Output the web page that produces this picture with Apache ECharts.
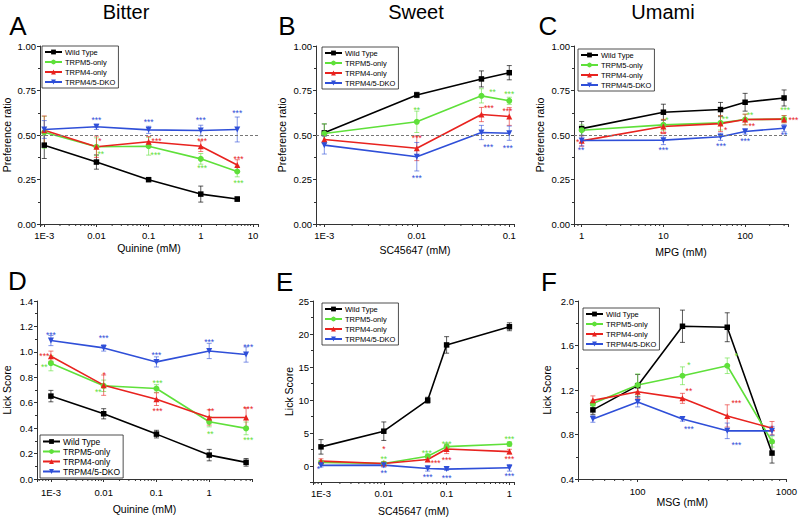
<!DOCTYPE html>
<html><head><meta charset="utf-8">
<script src="https://cdn.jsdelivr.net/npm/echarts@6/dist/echarts.min.js"></script>
<style>html,body{margin:0;padding:0;background:#fff}#c{width:800px;height:517px}</style>
</head><body><div id="c"></div>
<script>
const SERIES_NAMES = ['Wild Type','TRPM5-only','TRPM4-only','TRPM4/5-DKO'];
const COLORS = ['#000000','#5fe03a','#e8231f','#2f4fd8'];
const SYMBOLS = ['rect','circle','triangle','triangle'];
const SYMBOL_ROT = [0,0,0,180];
const FONT = 'Liberation Sans, Arial, sans-serif';

// ---- Panel A: Bitter, preference ratio vs quinine
const A_CONC = [0.001, 0.01, 0.1, 1, 5];
const A_WT = [0.443, 0.348, 0.249, 0.168, 0.140];
const A_WT_ERR = [0.075, 0.04, 0.01, 0.045, 0.012];
const A_M5 = [0.515, 0.434, 0.437, 0.366, 0.295];
const A_M5_ERR = [0.09, 0.05, 0.05, 0.03, 0.03];
const A_M4 = [0.527, 0.434, 0.462, 0.437, 0.331];
const A_M4_ERR = [0.08, 0.06, 0.03, 0.03, 0.03];
const A_DKO = [0.531, 0.546, 0.529, 0.525, 0.531];
const A_DKO_ERR = [0.05, 0.015, 0.02, 0.03, 0.07];
const A_X_TICKS = [[0.001,'1E-3'],[0.01,'0.01'],[0.1,'0.1'],[1,'1'],[10,'10']];
const A_STARS = [
  [0.01,0.593,'***',3],[0.1,0.583,'***',3],[1,0.593,'***',3],[5,0.636,'***',3],
  [0.0116,0.477,'*',2],[0.142,0.477,'***',2],[1.06,0.477,'***',2],[5.3,0.376,'***',2],
  [0.0121,0.404,'**',1],[0.136,0.40,'***',1],[1.06,0.325,'***',1],[5.3,0.243,'***',1]
];

// ---- Panel B: Sweet, preference ratio vs SC45647
const B_CONC = [0.001, 0.01, 0.05, 0.1];
const B_WT = [0.512, 0.725, 0.815, 0.850];
const B_WT_ERR = [0.05, 0.015, 0.045, 0.04];
const B_M5 = [0.508, 0.574, 0.720, 0.692];
const B_M5_ERR = [0.055, 0.06, 0.04, 0.02];
const B_M4 = [0.475, 0.426, 0.615, 0.604];
const B_M4_ERR = [0.02, 0.07, 0.04, 0.05];
const B_DKO = [0.443, 0.378, 0.514, 0.510];
const B_DKO_ERR = [0.05, 0.08, 0.04, 0.04];
const B_X_TICKS = [[0.001,'1E-3'],[0.01,'0.01'],[0.1,'0.1']];
const B_STARS = [
  [0.01,0.652,'**',1],[0.066,0.751,'**',1],[0.1,0.740,'***',1],
  [0.01,0.493,'***',2],[0.0603,0.662,'***',2],[0.0955,0.647,'***',2],
  [0.01,0.269,'***',3],[0.0593,0.443,'***',3],[0.0965,0.437,'***',3]
];

// ---- Panel C: Umami, preference ratio vs MPG
const C_CONC = [1, 10, 50, 100, 300];
const C_WT = [0.536, 0.628, 0.643, 0.684, 0.708];
const C_WT_ERR = [0.04, 0.045, 0.04, 0.05, 0.045];
const C_M5 = [0.527, 0.557, 0.568, 0.587, 0.589];
const C_M5_ERR = [0.03, 0.03, 0.04, 0.03, 0.02];
const C_M4 = [0.467, 0.548, 0.564, 0.587, 0.589];
const C_M4_ERR = [0.03, 0.04, 0.045, 0.03, 0.02];
const C_DKO = [0.469, 0.471, 0.490, 0.520, 0.538];
const C_DKO_ERR = [0.03, 0.025, 0.02, 0.015, 0.02];
const C_X_TICKS = [[1,'1'],[10,'10'],[100,'100']];
const C_STARS = [
  [11,0.593,'*',1],[57,0.602,'**',1],[115,0.621,'**',1],[309,0.649,'***',1],
  [0.893,0.473,'*',2],[10,0.518,'**',2],[58,0.542,'*',2],[121,0.564,'**',2],[390,0.593,'***',2],
  [0.98,0.426,'**',3],[10,0.426,'***',3],[50.8,0.450,'***',3],[100,0.477,'***',3],[300,0.510,'**',3]
];

// ---- Panel D: Bitter, lick score vs quinine
const D_CONC = [0.001, 0.01, 0.1, 1, 5];
const D_WT = [0.652, 0.513, 0.353, 0.188, 0.131];
const D_WT_ERR = [0.045, 0.04, 0.03, 0.045, 0.03];
const D_M5 = [0.911, 0.733, 0.712, 0.450, 0.398];
const D_M5_ERR = [0.06, 0.045, 0.03, 0.04, 0.05];
const D_M4 = [0.966, 0.738, 0.628, 0.484, 0.484];
const D_M4_ERR = [0.04, 0.08, 0.05, 0.06, 0.075];
const D_DKO = [1.089, 1.031, 0.921, 1.007, 0.979];
const D_DKO_ERR = [0.04, 0.025, 0.04, 0.06, 0.06];
const D_X_TICKS = [[0.001,'1E-3'],[0.01,'0.01'],[0.1,'0.1'],[1,'1']];
const D_STARS = [
  [0.001,1.151,'***',3],[0.01,1.123,'***',3],[0.1,0.994,'***',3],[1,1.096,'***',3],[5.5,1.057,'***',3],
  [0.00075,0.985,'***',2],[0.0102,0.830,'*',2],[0.105,0.550,'***',2],[1.08,0.550,'**',2],[5.5,0.568,'***',2],
  [0.00075,0.897,'**',1],[0.0079,0.699,'**',1],[0.105,0.769,'***',1],[1.05,0.372,'**',1],[5.5,0.325,'***',1]
];

// ---- Panel E: Sweet, lick score vs SC45647
const E_CONC = [0.001, 0.01, 0.05, 0.1, 1];
const E_WT = [2.92, 5.29, 9.98, 18.35, 21.1];
const E_WT_ERR = [1.1, 1.4, 0.45, 1.25, 0.6];
const E_M5 = [0.55, 0.4, 1.5, 2.95, 3.35];
const E_M5_ERR = [0.3, 0.25, 0.35, 0.45, 0.35];
const E_M4 = [0.76, 0.4, 1.0, 2.6, 2.2];
const E_M4_ERR = [0.35, 0.3, 0.3, 0.7, 0.35];
const E_DKO = [0.12, 0.15, -0.35, -0.45, -0.25];
const E_DKO_ERR = [0.25, 0.3, 0.4, 0.2, 0.5];
const E_X_TICKS = [[0.001,'1E-3'],[0.01,'0.01'],[0.1,'0.1'],[1,'1']];
const E_STARS = [
  [0.00091,-0.1,'*',3],
  [0.01,2.85,'*',2],[0.01,1.45,'**',1],[0.01,-0.76,'**',3],
  [0.0483,2.32,'***',1],[0.0671,0.76,'***',2],[0.05,-1.36,'***',3],
  [0.1,3.68,'***',1],[0.1,1.26,'***',2],[0.1,-1.46,'***',3],
  [1,4.44,'***',1],[1,1.41,'***',2],[1,-1.26,'***',3]
];

// ---- Panel F: Umami, lick score vs MSG
const F_CONC = [50, 100, 200, 400, 800];
const F_WT = [1.021, 1.239, 1.773, 1.764, 0.633];
const F_WT_ERR = [0.04, 0.1, 0.145, 0.13, 0.09];
const F_M5 = [1.078, 1.245, 1.328, 1.418, 0.737];
const F_M5_ERR = [0.03, 0.1, 0.08, 0.07, 0.05];
const F_M4 = [1.107, 1.185, 1.125, 0.967, 0.857];
const F_M4_ERR = [0.04, 0.06, 0.045, 0.1, 0.06];
const F_DKO = [0.940, 1.093, 0.940, 0.833, 0.833];
const F_DKO_ERR = [0.03, 0.045, 0.02, 0.07, 0.04];
const F_X_TICKS = [[100,'100'],[1000,'1000']];
const F_STARS = [
  [221,1.439,'*',1],[461,1.528,'*',1],
  [221,1.209,'**',2],[461,1.101,'***',2],
  [221,0.863,'***',3],[461,0.722,'***',3]
];

const PANELS = [
  {grid:{left:39,top:46,width:219,height:178}, conc:A_CONC, means:[A_WT,A_M5,A_M4,A_DKO], errs:[A_WT_ERR,A_M5_ERR,A_M4_ERR,A_DKO_ERR],
   stars:A_STARS, xMin:0.000828, xMax:12.5, yMin:0, yMax:1, yInt:0.25, yDec:2, xTicks:A_X_TICKS,
   xName:'Quinine (mM)', yName:'Preference ratio', xGap:18, xMargin:6, yGap:28, legend:{left:42,top:46,fs:7.5,gap:2}, dashed:true},
  {grid:{left:316,top:46,width:198,height:178}, conc:B_CONC, means:[B_WT,B_M5,B_M4,B_DKO], errs:[B_WT_ERR,B_M5_ERR,B_M4_ERR,B_DKO_ERR],
   stars:B_STARS, xMin:0.000813, xMax:0.1125, yMin:0, yMax:1, yInt:0.25, yDec:2, xTicks:B_X_TICKS,
   xName:'SC45647 (mM)', yName:'Preference ratio', xGap:20, xMargin:6, yGap:29, legend:{left:322,top:47,fs:7.5,gap:2}, dashed:true},
  {grid:{left:574,top:46,width:214,height:178}, conc:C_CONC, means:[C_WT,C_M5,C_M4,C_DKO], errs:[C_WT_ERR,C_M5_ERR,C_M4_ERR,C_DKO_ERR],
   stars:C_STARS, xMin:0.805, xMax:335, yMin:0, yMax:1, yInt:0.25, yDec:2, xTicks:C_X_TICKS,
   xName:'MPG (mM)', yName:'Preference ratio', xGap:22, xMargin:6, yGap:29, legend:{left:578,top:49,fs:7.5,gap:2}, dashed:true},
  {grid:{left:36,top:301,width:216,height:178}, conc:D_CONC, means:[D_WT,D_M5,D_M4,D_DKO], errs:[D_WT_ERR,D_M5_ERR,D_M4_ERR,D_DKO_ERR],
   stars:D_STARS, xMin:0.000545, xMax:6.47, yMin:0, yMax:1.4, yInt:0.2, yDec:1, xTicks:D_X_TICKS,
   xName:'Quinine (mM)', yName:'Lick Score', xGap:24, xMargin:8, yGap:25, legend:{left:40,top:435,fs:8.5,gap:1}, dashed:false},
  {grid:{left:313,top:301,width:201,height:181}, conc:E_CONC, means:[E_WT,E_M5,E_M4,E_DKO], errs:[E_WT_ERR,E_M5_ERR,E_M4_ERR,E_DKO_ERR],
   stars:E_STARS, xMin:0.000746, xMax:1.183, yMin:-2.4, yMax:25, yInt:null, yDec:0, xTicks:E_X_TICKS,
   xName:'SC45647 (mM)', yName:'Lick Score', xGap:23, xMargin:6, yGap:19, legend:{left:322,top:303,fs:7.5,gap:2}, dashed:false},
  {grid:{left:578,top:301,width:209,height:178}, conc:F_CONC, means:[F_WT,F_M5,F_M4,F_DKO], errs:[F_WT_ERR,F_M5_ERR,F_M4_ERR,F_DKO_ERR],
   stars:F_STARS, xMin:39.7, xMax:1000, yMin:0.4, yMax:2.0, yInt:0.4, yDec:1, xTicks:F_X_TICKS,
   xName:'MSG (mM)', yName:'Lick Score', xGap:17, xMargin:7, yGap:26, legend:{left:583,top:308,fs:7.5,gap:2}, dashed:false}
];

function minorTicks(lo, hi) {
  const out = [];
  for (let d = Math.floor(Math.log10(lo)); d <= Math.ceil(Math.log10(hi)); d++) {
    for (let k = 2; k <= 9; k++) {
      const v = k * Math.pow(10, d);
      if (v > lo && v < hi) out.push(v);
    }
  }
  return out;
}

const grids = [], xAxes = [], yAxes = [], series = [], legends = [];
PANELS.forEach((P, i) => {
  grids.push(Object.assign({containLabel:false}, P.grid));
  const ticks = P.xTicks;
  xAxes.push({
    type:'log', logBase:10, gridIndex:i, min:P.xMin, max:P.xMax,
    name:P.xName, nameLocation:'middle', nameGap:P.xGap,
    nameTextStyle:{fontSize:10.5, color:'#000', fontFamily:FONT, verticalAlign:'top'},
    axisLine:{onZero:false, lineStyle:{color:'#333', width:1}},
    axisTick:{show:true, length:3, lineStyle:{color:'#333'}},
    splitLine:{show:false}, minorTick:{show:false}, minorSplitLine:{show:false},
    axisLabel:{fontSize:9.5, color:'#000', fontFamily:FONT, margin:P.xMargin,
      showMinLabel:true, showMaxLabel:true,
      formatter:(v) => { const m = ticks.find(t => Math.abs(Math.log10(t[0]) - Math.log10(v)) < 1e-6); return m ? m[1] : ''; }}
  });
  const yAx = {
    type:'value', gridIndex:i, min:P.yMin, max:P.yMax,
    name:P.yName, nameLocation:'middle', nameGap:P.yGap,
    nameTextStyle:{fontSize:10.5, color:'#000', fontFamily:FONT},
    axisLine:{show:true, onZero:false, lineStyle:{color:'#333', width:1}},
    axisTick:{show:true, length:3, lineStyle:{color:'#333'}},
    minorTick:{show:true, splitNumber:2, length:2, lineStyle:{color:'#333'}},
    splitLine:{show:false},
    axisLabel:{fontSize:9.5, color:'#000', fontFamily:FONT, margin:4,
      formatter:(v) => {
        if (P.yInt === null) { return (Math.abs(v/5 - Math.round(v/5)) < 1e-6) ? String(Math.round(v)) : ''; }
        return v.toFixed(P.yDec);
      }}
  };
  if (P.yInt !== null) yAx.interval = P.yInt;
  yAxes.push(yAx);

  // minor log ticks on the x axis
  const mt = minorTicks(P.xMin, P.xMax);
  series.push({
    type:'custom', xAxisIndex:i, yAxisIndex:i, silent:true, clip:false, z:1,
    data: mt.map(v => [v, P.yMin]),
    renderItem:(params, api) => {
      const p = api.coord([api.value(0), api.value(1)]);
      return {type:'line', shape:{x1:p[0], y1:p[1], x2:p[0], y2:p[1] + 2}, style:{stroke:'#333', lineWidth:1}};
    }
  });

  // error bars
  P.means.forEach((vals, s) => {
    const errs = P.errs[s];
    series.push({
      type:'custom', xAxisIndex:i, yAxisIndex:i, silent:true, clip:false, z:2,
      data: P.conc.map((c, j) => [c, vals[j] - errs[j], vals[j] + errs[j]]),
      renderItem:(params, api) => {
        const lo = api.coord([api.value(0), api.value(1)]);
        const hi = api.coord([api.value(0), api.value(2)]);
        const st = {stroke: COLORS[s], lineWidth:1, opacity: s === 0 ? 0.65 : 0.6};
        return {type:'group', children:[
          {type:'line', shape:{x1:lo[0], y1:lo[1], x2:hi[0], y2:hi[1]}, style:st},
          {type:'line', shape:{x1:lo[0]-2.5, y1:lo[1], x2:lo[0]+2.5, y2:lo[1]}, style:st},
          {type:'line', shape:{x1:hi[0]-2.5, y1:hi[1], x2:hi[0]+2.5, y2:hi[1]}, style:st}
        ]};
      }
    });
  });

  // main lines
  P.means.forEach((vals, s) => {
    const ser = {
      type:'line', name:SERIES_NAMES[s], xAxisIndex:i, yAxisIndex:i, z:3,
      data: P.conc.map((c, j) => [c, vals[j]]),
      symbol:SYMBOLS[s], symbolRotate:SYMBOL_ROT[s], symbolSize: s === 0 ? 5.5 : 6,
      showAllSymbol:true,
      lineStyle:{color:COLORS[s], width:1.6},
      itemStyle:{color:COLORS[s], borderWidth:0},
      emphasis:{disabled:true}
    };
    if (s === 0 && P.dashed) {
      ser.markLine = {silent:true, symbol:['none','none'], label:{show:false},
        lineStyle:{color:'#777', type:[3,2], width:1}, data:[{yAxis:0.5}], animation:false};
    }
    series.push(ser);
  });

  // significance stars
  series.push({
    type:'custom', xAxisIndex:i, yAxisIndex:i, silent:true, clip:false, z:4,
    data: P.stars.map(s => [s[0], s[1]]),
    renderItem:(params, api) => {
      const st = P.stars[params.dataIndex];
      const p = api.coord([api.value(0), api.value(1)]);
      return {type:'text', x:p[0], y:p[1] + 2, style:{text:st[2], fill:COLORS[st[3]],
        font:'8.5px ' + FONT, align:'center', verticalAlign:'middle', textAlign:'center', textVerticalAlign:'middle'}};
    }
  });

  legends.push({
    orient:'vertical', left:P.legend.left, top:P.legend.top, selectedMode:false,
    data:SERIES_NAMES, itemWidth:17, itemHeight:6, itemGap:P.legend.gap,
    padding:[2,3,2,2], borderColor:'#222', borderWidth:0.8, backgroundColor:'#fff',
    textStyle:{fontSize:P.legend.fs, color:'#000', fontFamily:FONT, padding:[0,0,0,-2]}
  });
});

const TITLES = [['Bitter',126,12],['Sweet',416,12],['Umami',663,12]];
const LETTERS = [['A',18,26],['B',287,26],['C',548,26],['D',17.5,281],['E',284.7,282],['F',549,282]];
const graphics = [];
TITLES.forEach(t => graphics.push({type:'text', x:t[1], y:t[2], silent:true,
  style:{text:t[0], font:'20px ' + FONT, fill:'#000', align:'center', verticalAlign:'middle', textAlign:'center', textVerticalAlign:'middle'}}));
LETTERS.forEach(t => graphics.push({type:'text', x:t[1], y:t[2], silent:true,
  style:{text:t[0], font:'26px ' + FONT, fill:'#000', align:'center', verticalAlign:'middle', textAlign:'center', textVerticalAlign:'middle'}}));

const chart = echarts.init(document.getElementById('c'), null, {renderer:'svg'});
chart.setOption({
  animation:false,
  backgroundColor:'#fff',
  grid:grids, xAxis:xAxes, yAxis:yAxes, series:series, legend:legends, graphic:graphics
});
</script></body></html>
